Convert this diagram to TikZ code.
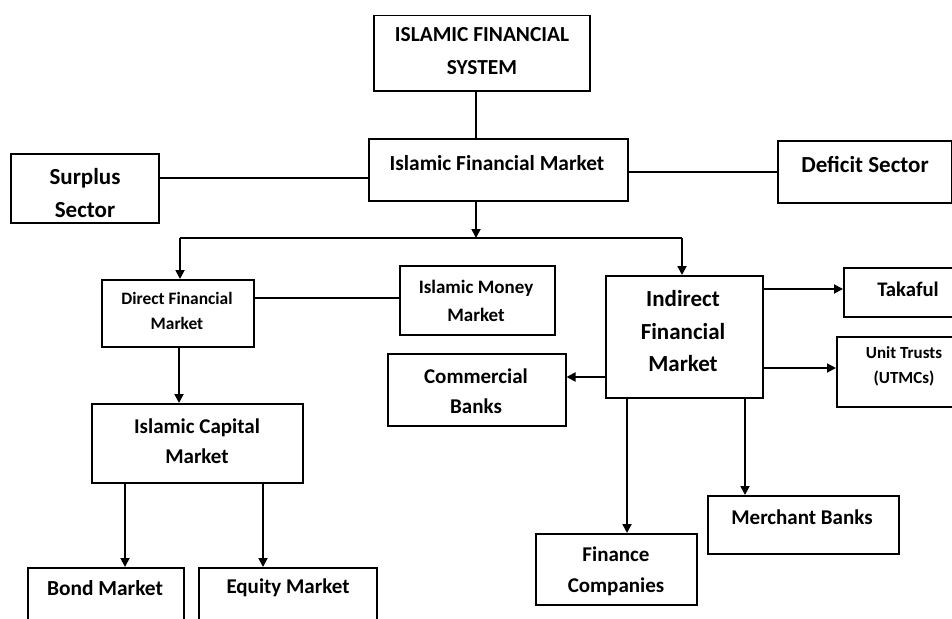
\documentclass[tikz,border=0pt]{standalone}
\usepackage{fontspec}
\setmainfont{Carlito}
\usetikzlibrary{arrows.meta}
\tikzset{
  box/.style={draw=black, line width=1.5pt, fill=none, anchor=north west, inner sep=0pt},
  txt/.style={align=center, inner sep=0pt, font=\bfseries},
  link/.style={draw=black, line width=1.5pt},
  arr/.style={draw=black, line width=1.8pt, -{Triangle[length=9pt,width=9pt]}},
}
\begin{document}
\begin{tikzpicture}[x=1pt,y=-1pt]
\useasboundingbox[fill=white] (0,0) rectangle (952,618);
% boxes
\node[box, minimum width=216pt, minimum height=75pt] (sys) at (373,15) {};
\node[box, minimum width=259pt, minimum height=62pt] (ifm) at (368,138) {};
\node[box, minimum width=148pt, minimum height=69pt] (sur) at (10,153) {};
\node[box, minimum width=174pt, minimum height=62pt] (def) at (777,140) {};
\node[box, minimum width=152pt, minimum height=67pt] (dir) at (101,279) {};
\node[box, minimum width=155pt, minimum height=69pt] (imm) at (399,265) {};
\node[box, minimum width=178pt, minimum height=72pt] (com) at (387,353) {};
\node[box, minimum width=157pt, minimum height=122pt] (ind) at (605,275) {};
\node[box, minimum width=109pt, minimum height=49pt] (tak) at (843,267) {};
\node[box, minimum width=116pt, minimum height=70pt] (uni) at (836,336) {};
\node[box, minimum width=211pt, minimum height=79pt] (icm) at (91,403) {};
\node[box, minimum width=156pt, minimum height=70pt] (bon) at (27,567) {};
\node[box, minimum width=178pt, minimum height=70pt] (equ) at (198,567) {};
\node[box, minimum width=161pt, minimum height=71pt] (fin) at (535,533) {};
\node[box, minimum width=191pt, minimum height=58pt] (mer) at (707,495) {};
% texts
\node[txt, font=\bfseries\fontsize{21.4}{33}\selectfont] at (482,51.5) {ISLAMIC FINANCIAL\\SYSTEM};
\node[txt, font=\bfseries\fontsize{21.4}{25}\selectfont] at (497,163) {Islamic Financial Market};
\node[txt, font=\bfseries\fontsize{23}{33}\selectfont] at (85,193.5) {Surplus\\Sector};
\node[txt, font=\bfseries\fontsize{23}{25}\selectfont] at (865,164) {Deficit Sector};
\node[txt, font=\bfseries\fontsize{17.4}{25}\selectfont] at (177,310.5) {Direct Financial\\Market};
\node[txt, font=\bfseries\fontsize{19}{28}\selectfont] at (476,301) {Islamic Money\\Market};
\node[txt, font=\bfseries\fontsize{21}{30}\selectfont] at (476,391) {Commercial\\Banks};
\node[txt, font=\bfseries\fontsize{23}{32.5}\selectfont] at (683,331.5) {Indirect\\Financial\\Market};
\node[txt, font=\bfseries\fontsize{20.7}{25}\selectfont] at (908,289) {Takaful};
\node[txt, font=\bfseries\fontsize{17}{25}\selectfont] at (904,366.5) {Unit Trusts\\(UTMCs)};
\node[txt, font=\bfseries\fontsize{21}{30}\selectfont] at (197,441) {Islamic Capital\\Market};
\node[txt, font=\bfseries\fontsize{21.4}{25}\selectfont] at (105,588) {Bond Market};
\node[txt, font=\bfseries\fontsize{21}{25}\selectfont] at (288,588) {Equity Market};
\node[txt, font=\bfseries\fontsize{21}{31}\selectfont] at (616,571) {Finance\\Companies};
\node[txt, font=\bfseries\fontsize{21}{25}\selectfont] at (802,517) {Merchant Banks};
% junction coordinates
\coordinate (j) at (476,238);
\coordinate (jl) at (180,238);
\coordinate (jr) at (682,238);
% connectors
\draw[link] (sys.south -| j) -- (ifm.north -| j);
\draw[link] (sur.east |- 0,178) -- (ifm.west |- 0,178);
\draw[link] (ifm.east |- 0,172) -- (def.west |- 0,172);
\draw[arr] (ifm.south -| j) -- (j);
\draw[link] (jl) -- (jr);
\draw[arr] (jl) -- (jl |- dir.north);
\draw[arr] (jr) -- (jr |- ind.north);
\draw[link] (dir.east |- 0,298) -- (imm.west |- 0,298);
\draw[arr] (dir.south -| 179,0) -- (icm.north -| 179,0);
\draw[arr] (icm.south -| 125,0) -- (bon.north -| 125,0);
\draw[arr] (icm.south -| 263,0) -- (equ.north -| 263,0);
\draw[arr] (ind.east |- 0,289) -- (tak.west |- 0,289);
\draw[arr] (ind.east |- 0,368) -- (uni.west |- 0,368);
\draw[arr] (ind.west |- 0,377) -- (com.east |- 0,377);
\draw[arr] (ind.south -| 627,0) -- (fin.north -| 627,0);
\draw[arr] (ind.south -| 745,0) -- (mer.north -| 745,0);
\end{tikzpicture}
\end{document}
